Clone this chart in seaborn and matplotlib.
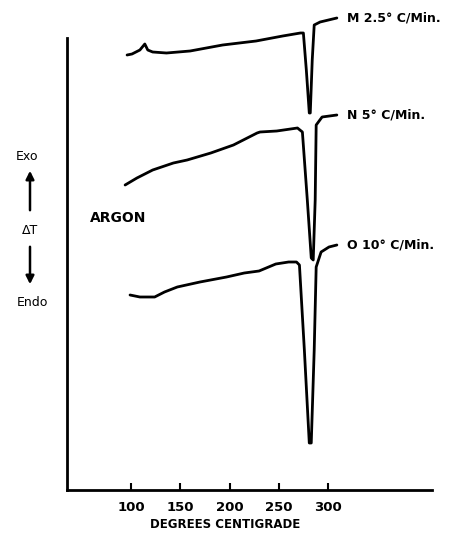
import matplotlib
matplotlib.use("Agg")
import matplotlib.pyplot as plt
import pandas as pd
import seaborn as sns

# DTA curves in argon, temperature in deg C, delta T in arbitrary units
temp_m = [96, 101, 109, 114, 117, 122, 136, 160, 193, 227, 254, 272, 275, 278, 281, 282, 284, 286, 292, 309]
dt_m = [435, 436, 440, 446, 440, 438, 437, 439, 445, 449, 454, 457, 457, 420, 377, 377, 430, 465, 468, 472]

temp_n = [94, 106, 122, 143, 157, 181, 204, 214, 228, 231, 248, 269, 274, 279, 283, 285, 287, 288, 294, 309]
dt_n = [305, 312, 320, 327, 330, 337, 345, 350, 357, 358, 359, 362, 358, 290, 232, 230, 290, 365, 373, 375]

temp_o = [99, 109, 124, 134, 147, 170, 197, 215, 230, 247, 260, 268, 271, 276, 281, 283, 286, 288, 293, 301, 309]
dt_o = [195, 193, 193, 198, 203, 208, 213, 217, 219, 226, 228, 228, 225, 140, 47, 47, 140, 223, 238, 243, 245]

rate_labels = ["M 2.5° C/Min.", "N 5° C/Min.", "O 10° C/Min."]
x_ticks = [100, 150, 200, 250, 300]

df = pd.concat([
    pd.DataFrame({"temp": temp_m, "dT": dt_m, "rate": rate_labels[0]}),
    pd.DataFrame({"temp": temp_n, "dT": dt_n, "rate": rate_labels[1]}),
    pd.DataFrame({"temp": temp_o, "dT": dt_o, "rate": rate_labels[2]}),
])

sns.set_style("ticks")
plt.rcParams["font.family"] = ["DejaVu Sans"]
plt.rcParams["text.color"] = "black"
plt.rcParams["axes.edgecolor"] = "black"
plt.rcParams["axes.labelcolor"] = "black"
plt.rcParams["xtick.color"] = "black"

fig = plt.figure(figsize=(4.66, 5.36), dpi=100)
ax = fig.add_axes([67 / 466, 46 / 536, 365 / 466, 452 / 536])

sns.lineplot(data=df, x="temp", y="dT", units="rate", estimator=None, sort=False,
             color="black", lw=2, clip_on=False, ax=ax)

ax.set_xlim(35, 405.6)
ax.set_ylim(0, 452)
ax.set_xticks(x_ticks)
ax.set_xticklabels([str(t) for t in x_ticks], fontsize=9.5, fontweight="bold")
ax.tick_params(axis="x", direction="in", length=5, width=1.5, pad=8)
ax.set_yticks([])
ax.set_ylabel("")
ax.set_xlabel("DEGREES CENTIGRADE", fontsize=8.5, fontweight="bold", labelpad=3)
ax.xaxis.label.set_x(0.433)
sns.despine(ax=ax)
for s in ["left", "bottom"]:
    ax.spines[s].set_linewidth(2)

# labels at the right end of each curve
for t, d, lab in [(temp_m[-1], dt_m[-1], rate_labels[0]),
                  (temp_n[-1], dt_n[-1], rate_labels[1]),
                  (temp_o[-1], dt_o[-1], rate_labels[2])]:
    ax.text(t + 10, d, lab, fontsize=9, fontweight="bold", va="center", ha="left", clip_on=False)

ax.text(90 / 466, 1 - 218 / 536, "ARGON", transform=fig.transFigure, fontsize=10,
        fontweight="bold", va="center", ha="left", family="DejaVu Sans Condensed")

# Exo / Endo indicator on the left
def fp(x, y):
    return (x / 466, 1 - y / 536)

fig.text(*fp(27, 157), "Exo", fontsize=9, ha="center", va="center")
fig.text(*fp(30, 230), "ΔT", fontsize=9, ha="center", va="center")
fig.text(*fp(32, 302), "Endo", fontsize=9, ha="center", va="center")
ax.annotate("", xy=fp(30, 168), xytext=fp(30, 213), xycoords="figure fraction",
            arrowprops=dict(arrowstyle="-|>", color="black", lw=1.8, mutation_scale=12),
            annotation_clip=False)
ax.annotate("", xy=fp(30, 287), xytext=fp(30, 244), xycoords="figure fraction",
            arrowprops=dict(arrowstyle="-|>", color="black", lw=1.8, mutation_scale=12),
            annotation_clip=False)

fig.savefig("out.png", dpi=100)
